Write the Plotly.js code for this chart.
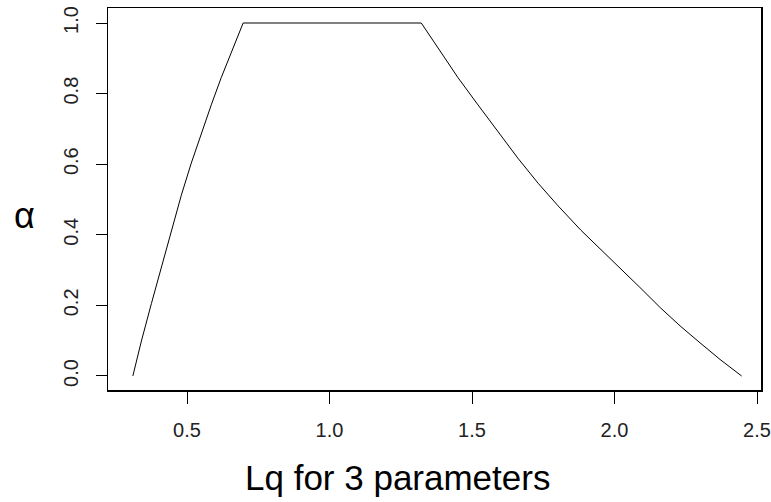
<!DOCTYPE html>
<html>
<head>
<meta charset="utf-8">
<script src="https://cdn.plot.ly/plotly-3.0.1.min.js"></script>
<style>html,body{margin:0;padding:0;background:#fff;}#chart{width:771px;height:502px;}</style>
</head>
<body>
<div id="chart"></div>
<script>
// Data
const lqValues = [0.31, 0.34, 0.375, 0.41, 0.445, 0.48, 0.515, 0.55, 0.586, 0.62, 0.655, 0.697,
                  1.322, 1.381, 1.451, 1.521, 1.591, 1.661, 1.732, 1.802, 1.882,
                  1.961, 2.031, 2.089, 2.16, 2.23, 2.30, 2.37, 2.446];
const alphaValues = [0.0, 0.099, 0.205, 0.31, 0.413, 0.512, 0.603, 0.688, 0.770, 0.845, 0.918, 1.0,
                     1.0, 0.928, 0.845, 0.768, 0.692, 0.617, 0.546, 0.482, 0.413,
                     0.352, 0.298, 0.251, 0.194, 0.142, 0.094, 0.047, 0.0];
const xTickVals = [0.5, 1.0, 1.5, 2.0, 2.5];
const xTickText = ["0.5", "1.0", "1.5", "2.0", "2.5"];
const yTickVals = [0.0, 0.2, 0.4, 0.6, 0.8, 1.0];
const yTickText = ["0.0", "0.2", "0.4", "0.6", "0.8", "1.0"];
const xLabel = "Lq for 3 parameters";
const yLabel = "α";

const FONT = "Liberation Sans, Arial, sans-serif";

const trace = {
  x: lqValues,
  y: alphaValues,
  type: "scatter",
  mode: "lines",
  line: {color: "#000", width: 1},
  hoverinfo: "skip"
};

const layout = {
  width: 771,
  height: 502,
  margin: {l: 108, r: 10, t: 8, b: 112, pad: 0},
  paper_bgcolor: "#fff",
  plot_bgcolor: "#fff",
  showlegend: false,
  font: {family: FONT, color: "#000", size: 20},
  xaxis: {
    range: [0.2228, 2.514],
    tickvals: xTickVals,
    ticktext: xTickText,
    ticks: "outside",
    ticklen: 12,
    tickwidth: 1,
    tickcolor: "#000",
    showline: true,
    mirror: true,
    linecolor: "#000",
    linewidth: 1.5,
    showgrid: false,
    zeroline: false,
    ticklabelstandoff: 9,
    tickfont: {family: FONT, size: 20, color: "#222"}
  },
  yaxis: {
    range: [-0.0397, 1.0425],
    tickvals: yTickVals,
    ticktext: yTickText,
    ticks: "outside",
    ticklen: 11,
    tickwidth: 1,
    tickcolor: "#000",
    tickangle: -90,
    showline: true,
    mirror: true,
    linecolor: "#000",
    linewidth: 1.5,
    showgrid: false,
    zeroline: false,
    ticklabelstandoff: 10,
    tickfont: {family: FONT, size: 20, color: "#222"}
  },
  annotations: [
    {
      text: xLabel, xref: "paper", yref: "paper",
      x: 0.444, y: -0.230, xanchor: "center", yanchor: "middle",
      showarrow: false, font: {family: FONT, size: 35, color: "#000"}
    },
    {
      text: yLabel, xref: "paper", yref: "paper",
      x: -0.1286, y: 0.4555, xanchor: "center", yanchor: "middle",
      showarrow: false, font: {family: FONT, size: 36, color: "#000"}
    }
  ]
};

Plotly.newPlot("chart", [trace], layout, {staticPlot: true, displayModeBar: false});
</script>
</body>
</html>
